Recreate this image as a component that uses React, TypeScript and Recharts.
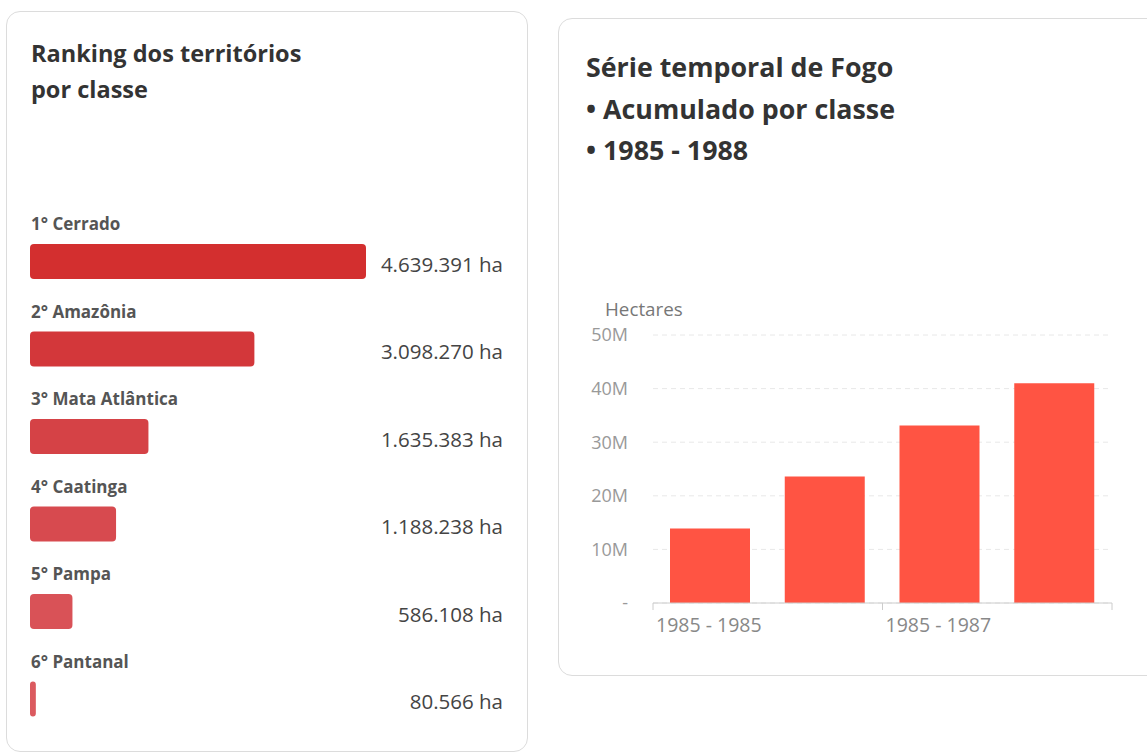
import React from "react";
import {
  BarChart,
  Bar,
  Cell,
  XAxis,
  YAxis,
  CartesianGrid,
  LabelList,
} from "recharts";

// ranking card
const rankNames = ["Cerrado", "Amazônia", "Mata Atlântica", "Caatinga", "Pampa", "Pantanal"];
const rankValues = [4639391, 3098270, 1635383, 1188238, 586108, 80566];
const rankColors = ["#D32F2F", "#D3373A", "#D54246", "#D74A4F", "#D95257", "#DB5A5F"];

// time series card
const periods = ["1985 - 1985", "1985 - 1986", "1985 - 1987", "1985 - 1988"];
const fireHa = [13900000, 23600000, 33100000, 41000000];
const yTicks = [0, 10000000, 20000000, 30000000, 40000000, 50000000];

const FONT = "'Open Sans', 'Noto Sans', sans-serif";

const rankData = rankNames.map((name, i) => ({
  name,
  label: `${i + 1}° ${name}`,
  value: rankValues[i],
}));

const seriesData = periods.map((p, i) => ({ period: p, value: fireHa[i] }));

const fmtHa = (v: number) =>
  String(v).replace(/\B(?=(\d{3})+(?!\d))/g, ".") + " ha";

const fmtMillions = (v: number) => (v === 0 ? "-" : `${v / 1000000}M`);

const cardStyle: React.CSSProperties = {
  position: "absolute",
  border: "1px solid #dcdcdc",
  borderRadius: 14,
  background: "#fff",
  boxSizing: "border-box",
};

const NameLabel = (props: any) => {
  const { x, y, index } = props;
  return (
    <text x={x + 1} y={y - 14} fill="#555" fontSize={17} fontWeight={700} fontFamily={FONT}>
      {rankData[index].label}
    </text>
  );
};

const ValueLabel = (props: any) => {
  const { y, height, value } = props;
  return (
    <text
      x={473}
      y={y + height / 2 + 2}
      fill="#444"
      fontSize={20.5}
      fontFamily={FONT}
      textAnchor="end"
      dominantBaseline="central"
    >
      {fmtHa(value)}
    </text>
  );
};

const PeriodTick = (props: any) => {
  const { x, y, payload } = props;
  const off = payload.offset || 0;
  const idx = payload.index;
  const last = idx === periods.length - 1;
  return (
    <g>
      {idx % 2 === 0 && (
        <>
          <line x1={x - off} y1={y} x2={x - off} y2={y + 7} stroke="#ccc" />
          <text x={x - off + 3} y={y + 29} fill="#888" fontSize={19.5} fontFamily={FONT}>
            {payload.value}
          </text>
        </>
      )}
      {last && <line x1={x + off} y1={y} x2={x + off} y2={y + 7} stroke="#ccc" />}
    </g>
  );
};

export default function App() {
  return (
    <div
      style={{
        position: "absolute",
        left: 0,
        top: 0,
        width: 1147,
        height: 753,
        overflow: "hidden",
        background: "#fff",
        fontFamily: FONT,
      }}
    >
      {/* left card */}
      <div style={{ ...cardStyle, left: 6, top: 11, width: 522, height: 741 }} />
      <div
        style={{
          position: "absolute",
          left: 31,
          top: 35,
          fontSize: 23.5,
          fontWeight: 700,
          lineHeight: "36px",
          color: "#333",
        }}
      >
        Ranking dos territórios
        <br />
        por classe
      </div>
      <div style={{ position: "absolute", left: 30, top: 200 }}>
        <BarChart
          width={475}
          height={560}
          data={rankData}
          layout="vertical"
          margin={{ top: 18, right: 139, left: 0, bottom: 17 }}
        >
          <XAxis type="number" hide domain={[0, "dataMax"]} />
          <YAxis type="category" dataKey="name" hide />
          <Bar dataKey="value" barSize={35} radius={4} isAnimationActive={false}>
            {rankData.map((d, i) => (
              <Cell key={d.name} fill={rankColors[i]} />
            ))}
            <LabelList dataKey="value" content={<NameLabel />} />
            <LabelList dataKey="value" content={<ValueLabel />} />
          </Bar>
        </BarChart>
      </div>

      {/* right card */}
      <div style={{ ...cardStyle, left: 558, top: 18, width: 620, height: 658 }} />
      <div
        style={{
          position: "absolute",
          left: 586,
          top: 46,
          fontSize: 26.8,
          fontWeight: 700,
          lineHeight: "41.5px",
          color: "#333",
        }}
      >
        Série temporal de Fogo
        <br />• Acumulado por classe
        <br />• 1985 - 1988
      </div>
      <div
        style={{
          position: "absolute",
          left: 605,
          top: 296,
          fontSize: 18.8,
          color: "#777",
        }}
      >
        Hectares
      </div>
      <div style={{ position: "absolute", left: 570, top: 295 }}>
        <BarChart
          width={560}
          height={345}
          data={seriesData}
          margin={{ top: 40, right: 18, left: 0, bottom: 7 }}
        >
          <CartesianGrid vertical={false} stroke="#e8e8e8" strokeDasharray="5 4" />
          <XAxis
            dataKey="period"
            interval={0}
            height={30}
            tickSize={0}
            tickMargin={0}
            axisLine={{ stroke: "#ccc" }}
            tick={<PeriodTick />}
          />
          <YAxis
            width={83}
            domain={[0, 50000000]}
            ticks={yTicks}
            tickFormatter={fmtMillions}
            axisLine={false}
            tickLine={false}
            tickSize={0}
            tickMargin={25}
            tick={{ fill: "#999", fontSize: 18, fontFamily: FONT }}
          />
          <Bar dataKey="value" fill="#FF5443" barSize={80} isAnimationActive={false} />
        </BarChart>
      </div>
    </div>
  );
}
